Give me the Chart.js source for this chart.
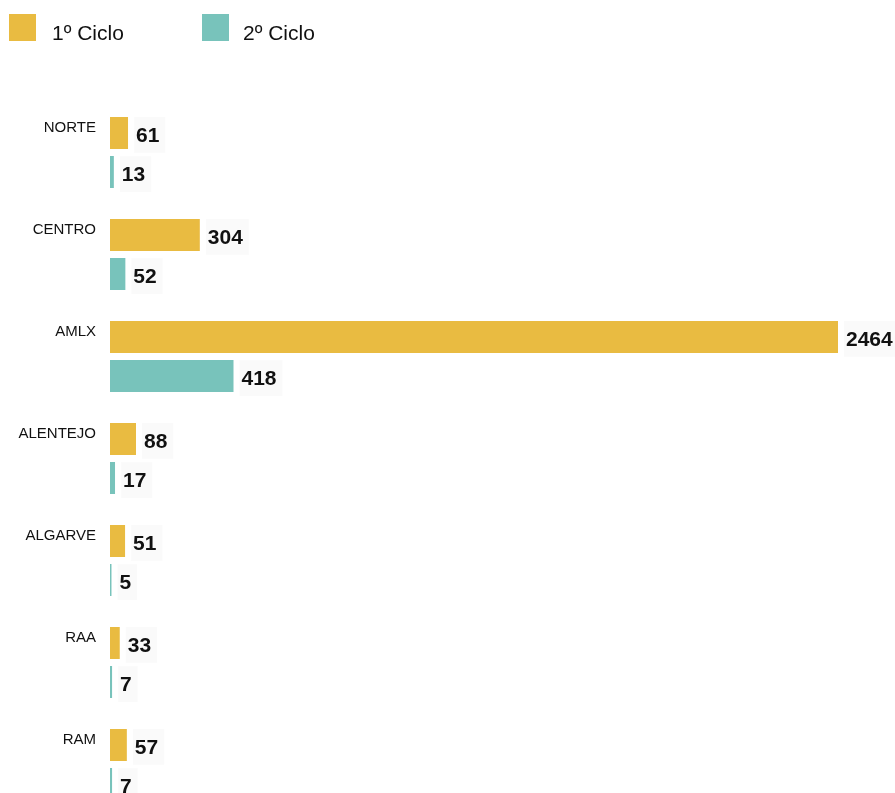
<!DOCTYPE html>
<html>
<head>
<meta charset="utf-8">
<script src="https://cdn.jsdelivr.net/npm/chart.js@4.4.0/dist/chart.umd.min.js"></script>
<style>
  html, body { margin: 0; padding: 0; background: #fff; overflow: hidden; }
  body { width: 895px; height: 793px; position: relative; font-family: "Liberation Sans", Arial, sans-serif; }
  #wrap { position: absolute; left: 0; top: 0; width: 895px; height: 830px; }
  .box { position: absolute; top: 14px; width: 27px; height: 27px; }
  .legtxt { position: absolute; top: 20px; font-size: 21px; line-height: 26px; color: #111; }
</style>
</head>
<body>
<div id="wrap"><canvas id="chart" width="895" height="830"></canvas></div>
<span class="box" style="left:9px;background:#E9BB41"></span><span class="legtxt" style="left:52px">1º Ciclo</span>
<span class="box" style="left:202px;background:#78C3BB"></span><span class="legtxt" style="left:243px">2º Ciclo</span>
<script>
// regions and values per cycle
const regions = ['NORTE', 'CENTRO', 'AMLX', 'ALENTEJO', 'ALGARVE', 'RAA', 'RAM'];
const ciclo1 = [61, 304, 2464, 88, 51, 33, 57];
const ciclo2 = [13, 52, 418, 17, 5, 7, 7];

const yellow = '#E9BB41';
const teal = '#78C3BB';

// region names drawn above each group, right aligned
const regionLabels = {
    id: 'regionLabels',
    afterDatasetsDraw(chart) {
        const ctx = chart.ctx;
        const y = chart.scales.y;
        ctx.save();
        ctx.font = '15px "Liberation Sans", Arial, sans-serif';
        ctx.fillStyle = '#111';
        ctx.textAlign = 'right';
        ctx.textBaseline = 'middle';
        regions.forEach((name, i) => {
            ctx.fillText(name, 96, y.getPixelForValue(i) - 25);
        });
        ctx.restore();
    }
};

// bold numbers at the end of each bar
const valueLabels = {
    id: 'valueLabels',
    afterDatasetsDraw(chart) {
        const ctx = chart.ctx;
        ctx.save();
        ctx.font = 'bold 21px "Liberation Sans", Arial, sans-serif';
        ctx.textAlign = 'left';
        ctx.textBaseline = 'middle';
        chart.data.datasets.forEach((ds, di) => {
            chart.getDatasetMeta(di).data.forEach((bar, i) => {
                const txt = String(ds.data[i]);
                const x = bar.x + 8;
                const w = ctx.measureText(txt).width;
                ctx.fillStyle = 'rgba(0,0,0,0.018)';
                ctx.fillRect(x - 2, bar.y - 16, w + 8, 36);
                ctx.fillStyle = '#111';
                ctx.fillText(txt, x, bar.y + 3);
            });
        });
        ctx.restore();
    }
};

new Chart(document.getElementById('chart').getContext('2d'), {
    type: 'bar',
    data: {
        labels: regions,
        datasets: [
            { label: '1º Ciclo', data: ciclo1, backgroundColor: yellow },
            { label: '2º Ciclo', data: ciclo2, backgroundColor: teal }
        ]
    },
    options: {
        indexAxis: 'y',
        responsive: false,
        animation: false,
        categoryPercentage: 0.765,
        barPercentage: 0.82,
        layout: { padding: { left: 110, right: 57, top: 101.5, bottom: 14.5 } },
        plugins: { legend: { display: false }, tooltip: { enabled: false } },
        scales: {
            x: { display: false, min: 0, max: Math.max(...ciclo1) },
            y: { display: false }
        }
    },
    plugins: [regionLabels, valueLabels]
});
</script>
</body>
</html>
